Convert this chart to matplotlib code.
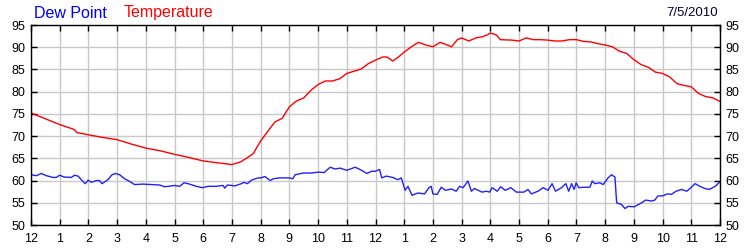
import numpy as np
import matplotlib
matplotlib.use('Agg')
import matplotlib.pyplot as plt

plt.rcParams['font.family'] = ['Liberation Sans', 'DejaVu Sans']

# Temperatura (horas desde meia-noite, graus F)
temp_hours = [0, 0.5, 1, 1.5, 1.6, 2, 2.5, 3, 3.5, 4, 4.5, 5, 5.5, 6, 6.5, 7, 7.3, 7.5,
              7.75, 7.86, 8, 8.25, 8.5, 8.75, 9, 9.25, 9.5, 9.75, 10, 10.25, 10.5, 10.75,
              11, 11.25, 11.5, 11.75, 12, 12.25, 12.4, 12.6, 12.8, 13, 13.25, 13.5, 13.75,
              14, 14.25, 14.5, 14.65, 14.85, 15, 15.25, 15.5, 15.75, 15.9, 16, 16.2, 16.35,
              16.75, 17, 17.25, 17.5, 17.75, 18, 18.25, 18.5, 18.75, 19, 19.25, 19.5, 19.75,
              20, 20.25, 20.5, 20.75, 21, 21.25, 21.5, 21.75, 22, 22.25, 22.5, 22.75, 23,
              23.25, 23.5, 23.75, 24]
temp_values = [75.2, 73.9, 72.6, 71.5, 70.8, 70.3, 69.7, 69.2, 68.2, 67.3, 66.7, 65.9, 65.2,
               64.4, 64.0, 63.6, 64.2, 65.0, 66.1, 67.4, 68.9, 71.1, 73.2, 74.0, 76.6, 77.9,
               78.6, 80.3, 81.6, 82.4, 82.4, 82.9, 84.1, 84.6, 85.1, 86.3, 87.1, 87.8, 87.8,
               86.9, 87.8, 88.9, 90.1, 91.1, 90.5, 90.1, 91.1, 90.5, 90.1, 91.7, 92.1, 91.4,
               92.1, 92.4, 92.8, 93.2, 92.8, 91.7, 91.6, 91.4, 92.1, 91.7, 91.7, 91.6, 91.4,
               91.4, 91.7, 91.7, 91.3, 91.2, 90.8, 90.5, 90.1, 89.1, 88.6, 87.2, 86.1, 85.5,
               84.4, 84.1, 83.3, 81.8, 81.4, 81.1, 79.6, 78.9, 78.6, 77.8]

# Ponto de orvalho
dew_hours = [0, 0.19, 0.36, 0.53, 0.77, 0.88, 1.0, 1.15, 1.40, 1.52, 1.64, 1.75, 1.89, 1.99,
             2.10, 2.28, 2.39, 2.47, 2.68, 2.82, 2.94, 3.09, 3.26, 3.41, 3.61, 3.90, 4.19,
             4.48, 4.66, 5.01, 5.18, 5.33, 5.47, 5.76, 5.97, 6.17, 6.46, 6.69, 6.75, 6.84,
             7.10, 7.33, 7.42, 7.54, 7.68, 7.91, 8.0, 8.15, 8.33, 8.44, 8.65, 9.0, 9.12,
             9.20, 9.49, 9.78, 10.01, 10.21, 10.42, 10.59, 10.77, 11.0, 11.29, 11.46, 11.70,
             11.87, 12.0, 12.14, 12.22, 12.37, 12.60, 12.78, 12.90, 13.03, 13.13, 13.27,
             13.48, 13.71, 13.86, 13.94, 14.00, 14.15, 14.29, 14.44, 14.64, 14.81, 14.93,
             15.05, 15.22, 15.34, 15.45, 15.71, 15.86, 15.98, 16.06, 16.24, 16.36, 16.52,
             16.71, 16.91, 17.17, 17.31, 17.43, 17.66, 17.84, 18.01, 18.15, 18.27, 18.48,
             18.63, 18.73, 18.83, 18.92, 18.99, 19.08, 19.27, 19.47, 19.55, 19.64, 19.81,
             19.93, 20.10, 20.22, 20.34, 20.40, 20.57, 20.69, 20.80, 21.01, 21.27, 21.41,
             21.62, 21.73, 21.83, 22.02, 22.17, 22.31, 22.47, 22.66, 22.84, 22.99, 23.13,
             23.30, 23.48, 23.63, 23.83, 24.0]
dew_values = [61.3, 61.1, 61.6, 61.1, 60.7, 60.7, 61.2, 60.8, 60.7, 61.2, 61.0, 60.2, 59.3,
              60.1, 59.6, 60.0, 60.0, 59.3, 60.2, 61.3, 61.6, 61.3, 60.4, 59.9, 59.1, 59.2,
              59.1, 59.0, 58.6, 58.9, 58.7, 59.5, 59.3, 58.7, 58.4, 58.7, 58.7, 58.9, 58.3,
              59.0, 58.8, 59.3, 59.6, 59.3, 60.1, 60.6, 60.6, 60.9, 60.0, 60.4, 60.6, 60.6,
              60.4, 61.3, 61.7, 61.7, 61.9, 61.8, 63.0, 62.6, 62.8, 62.3, 63.0, 62.5, 61.6,
              62.1, 62.1, 62.5, 60.6, 61.0, 60.7, 60.2, 60.6, 57.8, 58.7, 56.7, 57.2, 57.0,
              58.4, 58.7, 57.0, 56.9, 58.5, 57.8, 58.1, 57.6, 58.7, 58.4, 59.9, 57.6, 58.2,
              57.4, 57.6, 57.4, 58.4, 57.6, 58.6, 57.8, 58.4, 57.4, 57.4, 58.0, 57.0, 57.6,
              58.4, 57.8, 59.3, 57.6, 58.4, 59.3, 57.6, 59.3, 58.0, 59.5, 58.4, 58.5, 58.5,
              59.9, 59.3, 59.5, 59.1, 60.6, 61.3, 60.8, 55.0, 54.6, 53.7, 54.2, 54.1, 55.0,
              55.6, 55.4, 55.6, 56.5, 56.6, 57.0, 56.9, 57.6, 58.0, 57.6, 58.4, 59.3, 58.7,
              58.2, 58.0, 58.7, 59.7]

hour_labels = ['12'] + [str(h) for h in range(1, 12)] + ['12'] + [str(h) for h in range(1, 12)] + ['12']
y_ticks = list(range(50, 96, 5))

fig = plt.figure(figsize=(7.5, 2.5), dpi=100)
ax = fig.add_axes([31 / 750, 25 / 250, 689 / 750, 200 / 250])

ax.plot(dew_hours, dew_values, color='#2020ff', lw=1.0)
ax.plot(temp_hours, temp_values, color='#ff0000', lw=1.0)

ax.set_xlim(0, 24)
ax.set_ylim(50, 95)
ax.set_xticks(range(25))
ax.set_xticklabels(hour_labels)
ax.set_yticks(y_ticks)
ax.grid(True, color='#c8c8c8', lw=1.0)
ax.set_axisbelow(True)

ax.tick_params(direction='in', length=4, width=1, color='black',
               top=True, right=True, labelright=True, labelsize=9, pad=4)
ax.tick_params(axis='x', pad=6)
for s in ax.spines.values():
    s.set_color('black')
    s.set_linewidth(1)

fig.text(34 / 750, 1 - 13 / 250, 'Dew Point', color='#0000ff', fontsize=11.5, va='center')
fig.text(124 / 750, 1 - 13 / 250, 'Temperature', color='#ff0000', fontsize=11.5, va='center')
fig.text(718 / 750, 1 - 13 / 250, '7/5/2010', color='#000033', fontsize=9.5, va='center', ha='right')

fig.savefig('out.png', dpi=100)
